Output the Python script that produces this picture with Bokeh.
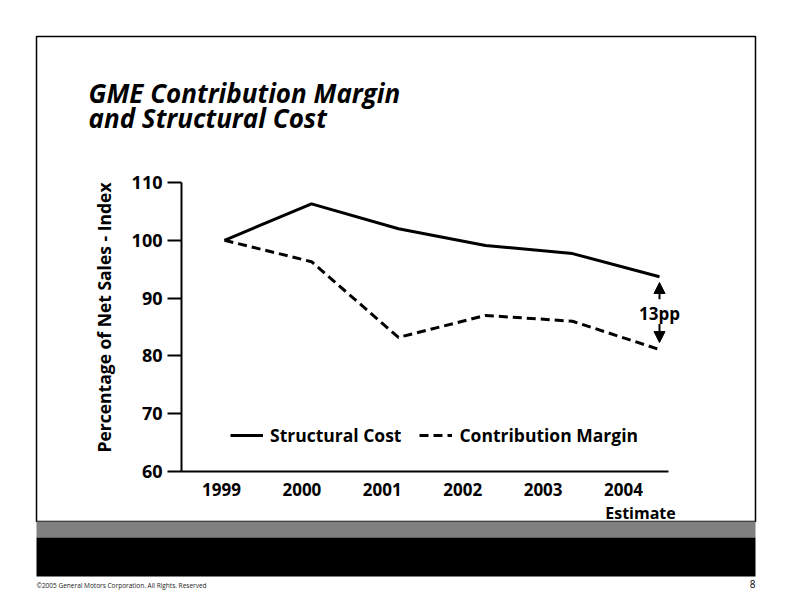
import math
from bokeh.plotting import figure
from bokeh.models import (Range1d, LinearAxis, FixedTicker, Label, BoxAnnotation,
                          Arrow, NormalHead, Legend, LegendItem)
from bokeh.embed import file_html
from bokeh.resources import INLINE

# ---------------- data ----------------
years = ["1999", "2000", "2001", "2002", "2003", "2004"]
structural_cost = [100.0, 106.3, 102.0, 99.1, 97.7, 93.7]
contribution_margin = [100.0, 96.3, 83.2, 87.0, 86.0, 81.1]
y_ticks = [60, 70, 80, 90, 100, 110]
series_names = ["Structural Cost", "Contribution Margin"]
gap_text = "13pp"
estimate_text = "Estimate"
title_lines = ["GME Contribution Margin", "and Structural Cost"]
y_title = "Percentage of Net Sales - Index"
footer_text = "\u00a92005 General Motors Corporation. All Rights. Reserved"
page_number = "8"

FONT = "Open Sans"

# ---------------- layout (page pixels) ----------------
W, H = 790, 604
AX_L, AX_R, AX_T, AX_B = 181, 668, 182, 471   # axis box on the page
PX0, DPX = 224, 87.0                          # first point, px per year
LX0, DLX = 221, 80.4                          # first year label, px per label
YS0, YE0 = y_ticks[0], y_ticks[-1]
PPU = (AX_B - AX_T) / (YE0 - YS0)


def X(px):          # page x -> index units
    return (px - PX0) / DPX


def Y(py):          # page y -> value units
    return YS0 + (AX_B - py) / PPU


def S(px):          # page x -> label slot units
    return 0.5 + (px - LX0) / DLX


p = figure(width=W, height=H, output_backend="svg", toolbar_location=None,
           x_range=Range1d(X(0), X(W)), y_range=Range1d(Y(H), Y(0)),
           x_axis_location=None, title=None,
           min_border_left=0, min_border_right=0,
           min_border_top=0, min_border_bottom=0)
p.outline_line_color = None
p.xgrid.visible = False
p.ygrid.visible = False
p.background_fill_color = "white"
p.border_fill_color = "white"

# slide frame and bands
p.add_layout(BoxAnnotation(left=X(36), right=X(755), top=Y(36), bottom=Y(521),
                           fill_alpha=0, line_color="black", line_alpha=1,
                           line_width=1.5, level="underlay"))
p.add_layout(BoxAnnotation(left=X(36), right=X(755), top=Y(521), bottom=Y(537),
                           fill_color="#808080", fill_alpha=1, line_alpha=0,
                           level="underlay"))
p.add_layout(BoxAnnotation(left=X(36), right=X(755), top=Y(537), bottom=Y(576),
                           fill_color="black", fill_alpha=1, line_alpha=0,
                           level="underlay"))

# y axis, fixed inside the slide
ya = p.yaxis[0]
ya.fixed_location = X(AX_L)
ya.bounds = (YS0, YE0)
ya.ticker = FixedTicker(ticks=y_ticks)
ya.axis_line_width = 2
ya.axis_line_color = "black"
ya.major_tick_line_width = 2
ya.major_tick_line_color = "black"
ya.major_tick_out = 14
ya.major_tick_in = 0
ya.minor_tick_line_color = None
ya.major_label_standoff = 5
ya.major_label_text_font = FONT
ya.major_label_text_font_style = "bold"
ya.major_label_text_font_size = "18px"
ya.major_label_text_color = "black"

# x axis: year labels on their own slot scale
p.extra_x_ranges = {"lab": Range1d(S(0), S(W))}
slot = [i + 0.5 for i in range(len(years))]
xa = LinearAxis(x_range_name="lab", ticker=FixedTicker(ticks=slot),
                major_label_overrides={s: y for s, y in zip(slot, years)},
                fixed_location=YS0, bounds=(S(AX_L), S(AX_R)))
xa.axis_line_width = 2
xa.axis_line_color = "black"
xa.major_tick_line_color = None
xa.minor_tick_line_color = None
xa.major_label_standoff = 5
xa.major_label_text_font = FONT
xa.major_label_text_font_style = "bold"
xa.major_label_text_font_size = "17px"
xa.major_label_text_color = "black"
p.add_layout(xa, "below")

idx = list(range(len(years)))
r1 = p.line(idx, structural_cost, line_color="black", line_width=3,
            line_join="round")
r2 = p.line(idx, contribution_margin, line_color="black", line_width=3,
            line_dash="9 5", line_join="round")

legend = Legend(items=[LegendItem(label=series_names[0], renderers=[r1]),
                       LegendItem(label=series_names[1], renderers=[r2])],
                orientation="horizontal", location=(230, H - 447),
                glyph_width=33, glyph_height=20, label_height=20,
                label_standoff=7, spacing=18, padding=0, margin=0,
                border_line_color=None, background_fill_alpha=0,
                label_text_font=FONT, label_text_font_style="bold",
                label_text_font_size="17.5px", label_text_color="black")
p.add_layout(legend, "center")

# gap annotation
last = len(years) - 1
mid = (structural_cost[-1] + contribution_margin[-1]) / 2
head = dict(size=11, fill_color="black", line_color="black")
p.add_layout(Arrow(end=NormalHead(**head), x_start=last, y_start=mid + 2.4,
                   x_end=last, y_end=structural_cost[-1] - 1.0,
                   line_width=2, line_color="black"))
p.add_layout(Arrow(end=NormalHead(**head), x_start=last, y_start=mid - 1.9,
                   x_end=last, y_end=contribution_margin[-1] + 1.2,
                   line_width=2, line_color="black"))
p.add_layout(Label(x=last, y=mid, text=gap_text, text_align="center",
                   text_baseline="middle", text_font=FONT, text_color="black",
                   text_font_style="bold", text_font_size="17px"))

p.add_layout(Label(x=X(640), y=Y(512), text=estimate_text, text_align="center",
                   text_baseline="middle", text_font=FONT, text_color="black",
                   text_font_style="bold", text_font_size="16px"))

# y title
p.add_layout(Label(x=X(103), y=Y(317), text=y_title, angle=math.pi / 2,
                   text_align="center", text_baseline="middle",
                   text_font=FONT, text_font_style="bold", text_color="black",
                   text_font_size="17.5px"))

# chart title
for line_text, mid_y in zip(title_lines, [92, 117]):
    p.add_layout(Label(x=X(88), y=Y(mid_y), text=line_text, text_font=FONT,
                       text_font_style="bold italic", text_font_size="26px",
                       text_color="black", text_baseline="middle"))

# footer
p.add_layout(Label(x=X(36), y=Y(585), text=footer_text, text_font=FONT,
                   text_font_size="6.5px", text_baseline="middle",
                   text_color="#222222"))
p.add_layout(Label(x=X(755), y=Y(583), text=page_number, text_font=FONT,
                   text_font_size="10px", text_baseline="middle",
                   text_color="black", text_align="right"))

open("out.html", "w").write(file_html(p, INLINE))
